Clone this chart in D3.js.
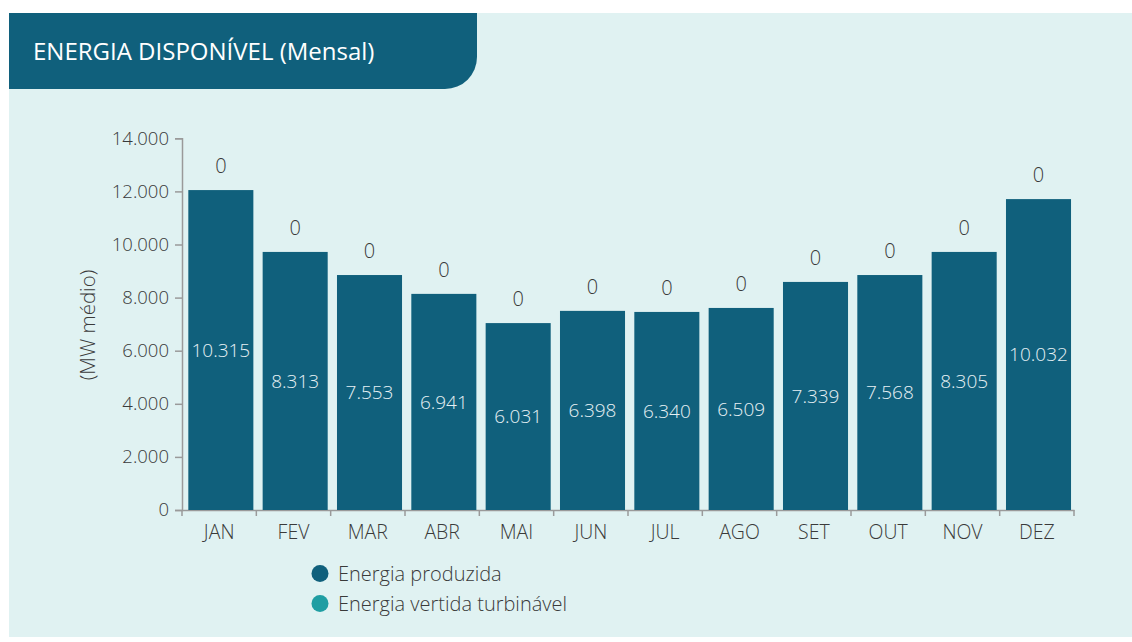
<!DOCTYPE html>
<html><head><meta charset="utf-8">
<script src="https://cdn.jsdelivr.net/npm/d3@7"></script>
<style>
html,body{margin:0;padding:0;background:#fff;}
svg{display:block;font-family:"Open Sans","Noto Sans",sans-serif;}
</style></head>
<body>
<svg id="chart" width="1132" height="642"></svg>
<script>
const months = ["JAN","FEV","MAR","ABR","MAI","JUN","JUL","AGO","SET","OUT","NOV","DEZ"];
// bar heights as drawn (MW médio)
const barHeights = [12050,9720,8850,8140,7040,7500,7460,7610,8590,8850,9720,11710];
// labels shown inside bars: Energia produzida
const produzida = [10315,8313,7553,6941,6031,6398,6340,6509,7339,7568,8305,10032];
// labels above bars: Energia vertida turbinável
const vertida = [0,0,0,0,0,0,0,0,0,0,0,0];
const yTicks = [0,2000,4000,6000,8000,10000,12000,14000];
const seriesNames = ["Energia produzida","Energia vertida turbinável"];
const seriesColors = ["#10607c","#1f9ea3"];

const fmt = v => d3.format(",")(v).replace(/,/g,".");

const svg = d3.select("#chart");
// panel background
svg.append("rect").attr("x",9).attr("y",13).attr("width",1123).attr("height",624).attr("fill","#e0f2f2");
// title banner with rounded bottom-right corner
const bx0=9, by0=13, bx1=477, by1=89, r=32;
svg.append("path")
  .attr("d",`M${bx0},${by0}H${bx1}V${by1-r}A${r},${r} 0 0 1 ${bx1-r},${by1}H${bx0}Z`)
  .attr("fill","#10607c");
svg.append("text").attr("x",33).attr("y",60).attr("fill","#fff")
  .attr("font-size",24).attr("font-weight",400)
  .text("ENERGIA DISPONÍVEL (Mensal)");

const x = d3.scaleBand().domain(months).range([182,1074]).paddingInner(0).paddingOuter(0);
const y = d3.scaleLinear().domain([0,14000]).range([510,138.3]);

// y axis
const gy = svg.append("g").attr("transform","translate(182,0)")
  .call(d3.axisLeft(y).tickValues(yTicks).tickFormat(fmt).tickSizeOuter(0).tickSize(7).tickPadding(6));
gy.select(".domain").attr("stroke","#9a9a9a").attr("stroke-width",1.5);
gy.selectAll(".tick line").attr("stroke","#9a9a9a").attr("stroke-width",1.5);
gy.selectAll(".tick text").attr("fill","#3a3a3a").attr("font-size",18.5).attr("font-family","Open Sans").attr("font-weight",300);

// x axis
const gx = svg.append("g").attr("transform","translate(0,510)")
  .call(d3.axisBottom(x).tickSize(0).tickPadding(15).tickSizeOuter(0));
gx.select(".domain").attr("stroke","#9a9a9a").attr("stroke-width",1.5);
gx.selectAll(".tick text").attr("fill","#3a3a3a").attr("font-size",19.5).attr("font-family","Open Sans").attr("font-weight",300);
// boundary ticks
const bounds = months.map(m=>x(m)).concat([x(months[months.length-1])+x.bandwidth()]);
svg.append("g").selectAll("line").data(bounds).join("line")
  .attr("x1",d=>d).attr("x2",d=>d).attr("y1",510).attr("y2",516)
  .attr("stroke","#9a9a9a").attr("stroke-width",1.5);

// y axis title
svg.append("text").attr("transform","translate(88,325) rotate(-90)")
  .attr("text-anchor","middle").attr("dy","0.35em").attr("fill","#3a3a3a").attr("font-size",20.5).attr("font-weight",300)
  .text("(MW médio)");

const bw = x.bandwidth();
const barW = bw*0.875, barOff = bw*0.085;

svg.append("g").selectAll("rect").data(months).join("rect")
  .attr("x",(d)=>x(d)+barOff).attr("width",barW)
  .attr("y",(d,i)=>y(barHeights[i])).attr("height",(d,i)=>y(0)-y(barHeights[i]))
  .attr("fill",seriesColors[0]);

// inside labels
svg.append("g").selectAll("text").data(months).join("text")
  .attr("x",d=>x(d)+barOff+barW/2)
  .attr("y",(d,i)=>(y(barHeights[i])+y(0))/2)
  .attr("dy","0.35em").attr("text-anchor","middle")
  .attr("fill","#e6f0f4").attr("font-size",19).attr("font-weight",300)
  .text((d,i)=>fmt(produzida[i]));

// top labels
svg.append("g").selectAll("text").data(months).join("text")
  .attr("x",d=>x(d)+barOff+barW/2)
  .attr("y",(d,i)=>y(barHeights[i])-24)
  .attr("dy","0.35em").attr("text-anchor","middle")
  .attr("fill","#3a3a3a").attr("font-size",20).attr("font-weight",300)
  .text((d,i)=>fmt(vertida[i]));

// legend
const lg = svg.append("g").selectAll("g").data(seriesNames).join("g")
  .attr("transform",(d,i)=>`translate(320,${573.5+i*30})`);
lg.append("circle").attr("r",8.5).attr("fill",(d,i)=>seriesColors[i]);
lg.append("text").attr("x",18).attr("dy","0.35em").attr("fill","#3a3a3a")
  .attr("font-size",20).attr("font-weight",300).text(d=>d);
</script>
</body></html>
